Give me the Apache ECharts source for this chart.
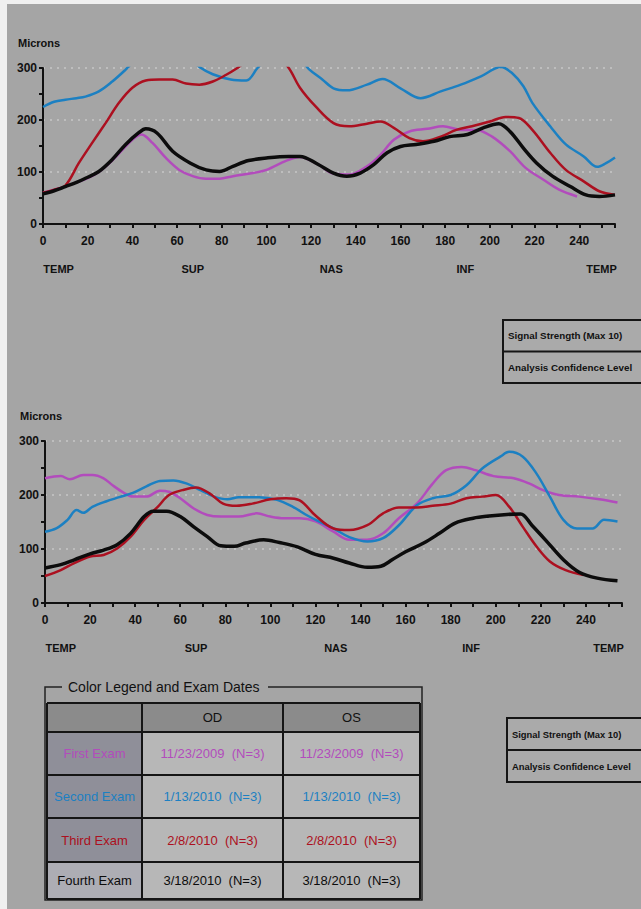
<!DOCTYPE html>
<html><head><meta charset="utf-8">
<script src="https://cdn.jsdelivr.net/npm/echarts@6/dist/echarts.min.js"></script>
<style>html,body{margin:0;padding:0;background:#a5a5a5;overflow:hidden;}#c{width:641px;height:909px;}</style>
</head><body><div id="c"></div>
<script>
// ---------- DATA ----------
var xTickMax = 256;
var yTicks = [0, 100, 200, 300];
var regionNames = ['TEMP', 'SUP', 'NAS', 'INF', 'TEMP'];
var regionAt = [7, 67, 129, 189, 250];
var seriesNames = ['First Exam', 'Second Exam', 'Third Exam', 'Fourth Exam'];

// Top chart (OD)
var odFirst = [[0,60],[5,66],[10,72],[15,80],[20,88],[25,100],[30,118],[35,140],[40,162],[44,172],[49,156],[55,127],[61,104],[67,92],[73,87],[79,87],[85,92],[94,98],[100,104],[109,122],[115,129],[123,115],[130,97],[137,95],[145,111],[151,133],[157,162],[164,178],[172,183],[179,188],[187,181],[194,181],[201,168],[209,140],[216,108],[224,85],[231,66],[239,53]];
var odSecond = [[0,225],[5,235],[10,239],[15,242],[19,245],[25,255],[31,274],[37,297],[42,318],[50,340],[60,335],[66,318],[70,302],[76,288],[84,278],[91,276],[96,300],[100,318],[108,330],[115,318],[119,298],[125,278],[130,261],[136,257],[145,268],[152,279],[160,261],[169,242],[178,255],[187,268],[196,284],[205,302],[210,290],[215,265],[219,233],[227,188],[234,153],[242,130],[248,110],[252,117],[256,128]];
var odThird = [[0,60],[5,66],[10,74],[16,117],[22,156],[28,194],[34,233],[40,262],[46,276],[52,278],[58,278],[64,270],[70,268],[76,274],[82,287],[87,300],[92,315],[100,330],[105,322],[110,300],[115,262],[122,226],[130,194],[137,188],[145,193],[151,197],[157,185],[164,165],[170,159],[178,168],[185,181],[192,188],[200,197],[207,206],[213,204],[219,181],[227,137],[234,104],[242,82],[249,63],[256,56]];
var odFourth = [[0,58],[5,64],[10,72],[15,80],[19,88],[25,101],[31,124],[37,153],[43,176],[46,183],[51,175],[58,140],[66,117],[73,104],[79,101],[85,111],[92,122],[100,127],[110,130],[115,130],[123,115],[130,98],[136,92],[142,98],[148,114],[154,137],[160,149],[167,153],[175,159],[182,168],[190,172],[197,185],[204,193],[209,178],[215,146],[221,117],[228,92],[236,72],[243,56],[249,53],[256,56]];

// Bottom chart (OS)
var osFirst = [[0,231],[7,235],[11,229],[17,237],[21,237],[26,231],[30,218],[35,204],[39,197],[45,197],[51,208],[55,206],[60,194],[66,175],[72,163],[78,160],[86,160],[94,166],[100,160],[106,157],[113,157],[120,151],[128,132],[135,117],[143,117],[150,129],[157,157],[165,184],[172,221],[178,246],[185,252],[191,246],[199,235],[208,231],[215,221],[221,209],[228,200],[237,197],[246,192],[254,186]];
var osSecond = [[0,132],[5,138],[10,154],[14,172],[17,167],[21,178],[27,188],[33,196],[39,204],[45,216],[51,226],[57,227],[63,221],[69,209],[75,197],[81,192],[86,196],[95,196],[103,191],[110,178],[116,163],[121,152],[128,138],[135,122],[143,114],[150,120],[157,144],[165,181],[172,194],[180,200],[187,218],[194,249],[202,271],[206,280],[212,271],[218,240],[224,197],[230,154],[236,138],[243,138],[248,154],[254,151]];
var osThird = [[0,50],[7,61],[13,74],[20,86],[26,89],[32,101],[38,123],[44,154],[50,178],[55,200],[61,209],[67,214],[73,203],[79,184],[85,180],[92,184],[100,192],[107,194],[113,190],[120,162],[128,138],[135,135],[143,144],[150,166],[157,177],[165,177],[172,180],[180,184],[187,194],[194,197],[200,200],[206,178],[212,141],[218,105],[224,77],[231,61],[239,52]];
var osFourth = [[0,65],[7,71],[13,80],[20,91],[26,98],[32,108],[38,129],[44,160],[48,170],[54,170],[60,160],[66,141],[72,123],[78,106],[84,105],[89,111],[97,117],[104,112],[112,104],[120,90],[128,83],[135,74],[143,66],[149,68],[154,80],[160,95],[168,111],[175,129],[182,148],[190,157],[197,161],[205,164],[211,165],[216,144],[222,117],[230,80],[237,57],[245,46],[254,41]];

// Legend table
var legendTitle = 'Color Legend and Exam Dates';
var legendHeaders = ['OD', 'OS'];
var legendRows = ['First Exam', 'Second Exam', 'Third Exam', 'Fourth Exam'];
var legendOD = ['11/23/2009  (N=3)', '1/13/2010  (N=3)', '2/8/2010  (N=3)', '3/18/2010  (N=3)'];
var legendOS = ['11/23/2009  (N=3)', '1/13/2010  (N=3)', '2/8/2010  (N=3)', '3/18/2010  (N=3)'];
var infoRowsTop = ['Signal Strength (Max 10)', 'Analysis Confidence Level'];
var infoRowsBottom = ['Signal Strength (Max 10)', 'Analysis Confidence Level'];

// ---------- STYLE ----------
var colors = ['#b24cbc', '#1c80c2', '#ac1020', '#0c0c0c'];
var widths = [2.5, 2.5, 2.5, 3.5];
var BG = '#a5a5a5';
var INK = '#111';
var FONT = '"Liberation Sans", Arial, sans-serif';

function xAxisCfg(g) {
  return {
    gridIndex: g, type: 'value', min: 0, max: xTickMax, interval: 20,
    axisLine: { show: true, onZero: false, lineStyle: { color: INK, width: 2 } },
    axisTick: { show: true, length: 4, lineStyle: { color: INK, width: 2 } },
    minorTick: { show: true, splitNumber: 2, length: 4, lineStyle: { color: INK, width: 2 } },
    splitLine: { show: false },
    axisLabel: {
      margin: 11, color: INK, fontSize: 12, fontWeight: 'bold', fontFamily: FONT,
      formatter: function (v) { return (v % 20 === 0 && v <= 240) ? String(v) : ''; }
    }
  };
}
function yAxisCfg(g) {
  return {
    gridIndex: g, type: 'value', min: yTicks[0], max: yTicks[yTicks.length - 1], interval: 100,
    axisLine: { show: true, lineStyle: { color: INK, width: 2 } },
    axisTick: { show: true, length: 4, lineStyle: { color: INK, width: 2 } },
    minorTick: { show: true, splitNumber: 2, length: 4, lineStyle: { color: INK, width: 2 } },
    splitLine: { show: true, lineStyle: { color: '#c6c6c6', type: [2, 5], width: 1.5 } },
    axisLabel: { margin: 6, color: INK, fontSize: 12, fontWeight: 'bold', fontFamily: FONT }
  };
}
function mk(name, data, i, g) {
  return {
    name: name, type: 'line', xAxisIndex: g, yAxisIndex: g, data: data,
    showSymbol: false, smooth: 0.35, clip: true, z: 2 + i,
    lineStyle: { color: colors[i], width: widths[i] }, itemStyle: { color: colors[i] }
  };
}

var chart = echarts.init(document.getElementById('c'), null, { renderer: 'svg', width: 641, height: 909 });
var option = {
  backgroundColor: BG,
  animation: false,
  grid: [
    { left: 43, top: 68, width: 572, height: 156 },
    { left: 45, top: 441, width: 577, height: 162 }
  ],
  xAxis: [xAxisCfg(0), xAxisCfg(1)],
  yAxis: [yAxisCfg(0), yAxisCfg(1)],
  series: [
    mk(seriesNames[0], odFirst, 0, 0), mk(seriesNames[1], odSecond, 1, 0),
    mk(seriesNames[2], odThird, 2, 0), mk(seriesNames[3], odFourth, 3, 0),
    mk(seriesNames[0], osFirst, 0, 1), mk(seriesNames[1], osSecond, 1, 1),
    mk(seriesNames[2], osThird, 2, 1), mk(seriesNames[3], osFourth, 3, 1)
  ]
};
chart.setOption(option);

// ---------- GRAPHICS (labels, table, boxes) ----------
var g = [];
function txt(x, y, s, opt) {
  opt = opt || {};
  g.push({ type: 'text', x: x, y: y, z: 100, silent: true, style: {
    text: s, fill: opt.fill || INK, align: opt.align || 'left', verticalAlign: opt.va || 'middle',
    font: (opt.weight || 'normal') + ' ' + (opt.size || 12) + 'px ' + FONT } });
}
function rect(x, y, w, h, fill, stroke, lw) {
  g.push({ type: 'rect', z: 90, silent: true, shape: { x: x, y: y, width: w, height: h },
    style: { fill: fill || 'none', stroke: stroke || 'none', lineWidth: lw || 0 } });
}
function line(x1, y1, x2, y2, lw) {
  g.push({ type: 'line', z: 95, silent: true, shape: { x1: x1, y1: y1, x2: x2, y2: y2 },
    style: { stroke: '#151515', lineWidth: lw || 2 } });
}
// light edge strips
rect(0, 0, 7, 909, '#f0f0f0');
rect(0, 0, 641, 4, '#f0f0f0');

// axis titles and region labels
var regionY = [269, 648];
var micronY = [43, 416];
var micronX = [18, 20];
[0, 1].forEach(function (gi) {
  txt(micronX[gi], micronY[gi], 'Microns', { weight: 'bold', size: 11 });
  regionNames.forEach(function (n, k) {
    var px = chart.convertToPixel({ xAxisIndex: gi, yAxisIndex: gi }, [regionAt[k], 0])[0];
    txt(px, regionY[gi], n, { weight: 'bold', size: 11, align: 'center' });
  });
});

// legend table
var colX = [47, 142, 283, 420];
var rowY = [703, 732, 775, 818, 862, 899];
rect(45, 687, 377, 213, 'none', '#222', 1.5);
rect(62, 680, 206, 14, BG);
txt(68, 687, legendTitle, { size: 14 });
// cells
rect(colX[0], rowY[0], colX[3] - colX[0], rowY[1] - rowY[0], '#8b8b8b');
for (var r = 0; r < 4; r++) {
  rect(colX[0], rowY[r + 1], colX[1] - colX[0], rowY[r + 2] - rowY[r + 1], r === 3 ? '#adadb4' : '#8f8f99');
  rect(colX[1], rowY[r + 1], colX[3] - colX[1], rowY[r + 2] - rowY[r + 1], '#b7b7b7');
}
colX.forEach(function (x) { line(x, rowY[0], x, rowY[5], 2); });
rowY.forEach(function (y) { line(colX[0], y, colX[3], y, 2); });
legendHeaders.forEach(function (h, k) {
  txt((colX[k + 1] + colX[k + 2]) / 2, (rowY[0] + rowY[1]) / 2, h, { align: 'center', size: 13 });
});
legendRows.forEach(function (name, r) {
  var cy = (rowY[r + 1] + rowY[r + 2]) / 2;
  txt((colX[0] + colX[1]) / 2, cy, name, { align: 'center', size: 13, fill: colors[r] });
  txt((colX[1] + colX[2]) / 2, cy, legendOD[r], { align: 'center', size: 13, fill: colors[r] });
  txt((colX[2] + colX[3]) / 2, cy, legendOS[r], { align: 'center', size: 13, fill: colors[r] });
});

// right info boxes (the boxes run past the right edge; text sized to stay inside)
function infoBox(x, y, rowH, rows, fs) {
  rect(x, y, 400, rowH * rows.length, '#aaaaaa', '#151515', 2);
  for (var i = 1; i < rows.length; i++) line(x, y + rowH * i, x + 400, y + rowH * i, 2);
  rows.forEach(function (s, i) { txt(x + 5, y + rowH * i + rowH / 2, s, { weight: 'bold', size: fs }); });
}
infoBox(503, 320, 31.5, infoRowsTop, 9.8);
infoBox(507, 718, 32, infoRowsBottom, 9.4);

chart.setOption({ graphic: { elements: g } });
</script>
</body></html>
